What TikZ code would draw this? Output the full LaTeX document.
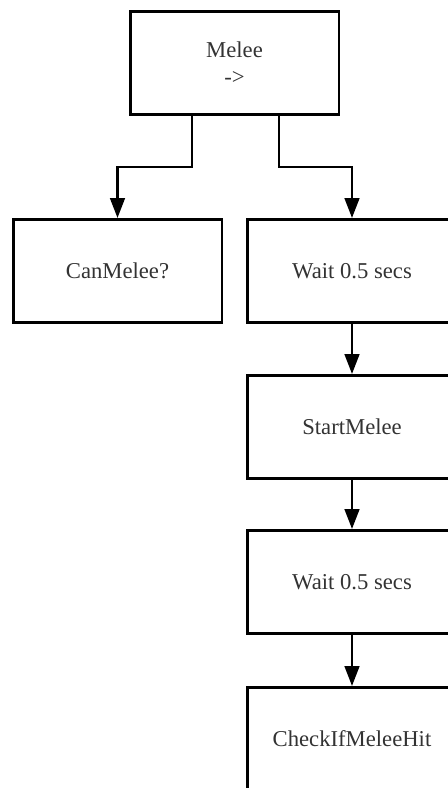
\documentclass[tikz,border=0pt]{standalone}
\usepackage{fontspec}
\setmainfont{Liberation Serif}
\usetikzlibrary{arrows.meta, calc}

\begin{document}
\begin{tikzpicture}[
    x=0.75pt, y=-0.75pt,
    >={Triangle[length=15pt, width=11pt]},
    task/.style={
        draw, line width=2pt,
        minimum width=156.5pt, minimum height=77.5pt,
        align=center, text=black!80,
        font=\fontsize{17}{20.5}\selectfont,
    },
    arrow/.style={->, line width=2pt},
]

\useasboundingbox (0,0) rectangle (448,788);
\clip (0,0) rectangle (448,788);

% ============ NODES ============

% Sequence root
\node[task] (melee) at (234.5, 63) {Melee \\ ->};

% First row (y=271)
\node[task] (canmelee) at (117.5, 271) {CanMelee?};
\node[task] (waitA)    at (352,   271) {Wait 0.5 secs};

% Right column, one step below the other
\node[task] (startmelee) at (352, 427) {StartMelee};
\node[task] (waitB)      at (352, 582) {Wait 0.5 secs};
\node[task] (checkhit)   at (352, 739) {CheckIfMeleeHit};

% ============ ARROWS ============

% Melee -> children (elbow connectors)
\draw[arrow] ([shift={(-42.5,0)}]melee.south) -- ++(0,51) -| (canmelee.north);
\draw[arrow] ([shift={(44.5,0)}]melee.south)  -- ++(0,51) -| (waitA.north);

% Right column, straight down
\draw[arrow] (waitA.south)      -- (startmelee.north);
\draw[arrow] (startmelee.south) -- (waitB.north);
\draw[arrow] (waitB.south)      -- (checkhit.north);

\end{tikzpicture}
\end{document}
